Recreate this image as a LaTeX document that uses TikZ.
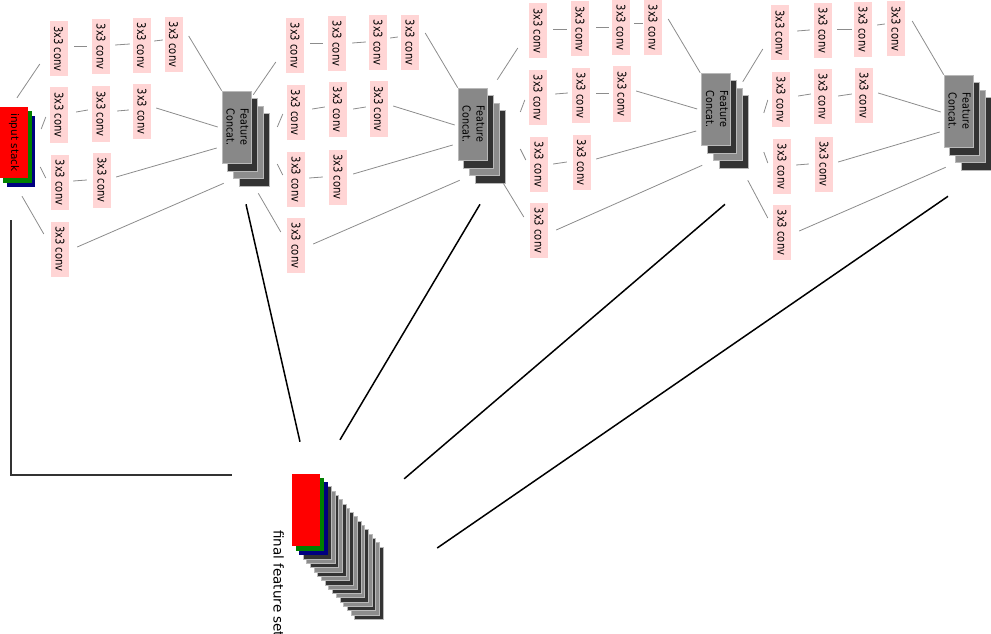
\documentclass[tikz,border=0pt]{standalone}
\usepackage{fontspec}
\setmainfont{DejaVu Sans}
\usepackage{graphicx}
\pgfdeclarelayer{bg}
\pgfsetlayers{bg,main}
\definecolor{convpink}{RGB}{255,213,213}
\definecolor{cgray}{RGB}{136,136,136}
\definecolor{cdark}{RGB}{51,51,51}
\definecolor{cmid}{RGB}{140,140,140}
\definecolor{clight}{RGB}{185,185,185}
\definecolor{lnk}{RGB}{140,140,140}
\definecolor{sgreen}{RGB}{0,128,0}
\definecolor{sblue}{RGB}{0,0,128}
\newcommand\cv{\rotatebox{-90}{\scalebox{0.83}[1]{3x3 conv}}}
\newcommand\fc{\rotatebox{-90}{\scalebox{0.87}[1]{\begin{tabular}{@{}c@{}}Feature\\Concat.\end{tabular}}}}
\newcommand\lk[4]{\draw[link] ([shift={#2}]#1) -- ([shift={#4}]#3);}
\tikzset{
  conv/.style={fill=convpink, minimum width=18pt, minimum height=55pt, inner sep=0pt, font=\fontsize{12}{14}\selectfont},
  concat/.style={fill=cgray, draw=clight, line width=0.6pt, minimum width=29pt, minimum height=72pt, inner sep=0pt, font=\fontsize{11}{14}\selectfont},
  redstack/.style={fill=red, minimum width=28pt, minimum height=72pt, inner sep=0pt},
  link/.style={draw=lnk, line width=0.8pt},
  bigline/.style={draw=black, line width=1.5pt},
  axisline/.style={draw=cdark, line width=1.4pt},
  layer/.style={draw=clight, line width=0.8pt}
}
\begin{document}
\begin{tikzpicture}[x=1pt,y=-1pt]
\useasboundingbox (0,0) rectangle (991,634);
% input stack
\node[redstack, minimum height=71pt] (inp) at (14,142.5) {\rotatebox{-90}{\fontsize{10.5}{12}\selectfont input stack}};
% module 1
\node[conv] (m1r1c1) at (58.5,49) {\cv};
\node[conv] (m1r1c2) at (101,46.5) {\cv};
\node[conv] (m1r1c3) at (141.5,45.5) {\cv};
\node[conv] (m1r1c4) at (173.5,44.5) {\cv};
\node[conv] (m1r2c1) at (59,115) {\cv};
\node[conv] (m1r2c2) at (101,114) {\cv};
\node[conv] (m1r2c3) at (142,111.5) {\cv};
\node[conv] (m1r3c1) at (60,182.5) {\cv};
\node[conv] (m1r3c2) at (102,180) {\cv};
\node[conv] (m1r4c1) at (60,249) {\cv};
\node[concat] (cc1) at (236.5,127) {\fc};
% module 2
\node[conv] (m2r1c1) at (295,45.5) {\cv};
\node[conv] (m2r1c2) at (337,43.5) {\cv};
\node[conv] (m2r1c3) at (378,42.5) {\cv};
\node[conv] (m2r1c4) at (410,42.5) {\cv};
\node[conv] (m2r2c1) at (295.5,112.5) {\cv};
\node[conv] (m2r2c2) at (337.5,109.5) {\cv};
\node[conv] (m2r2c3) at (378.5,109) {\cv};
\node[conv] (m2r3c1) at (296,179.5) {\cv};
\node[conv] (m2r3c2) at (338,177) {\cv};
\node[conv] (m2r4c1) at (296,245.5) {\cv};
\node[concat] (cc2) at (472.5,124) {\fc};
% module 3
\node[conv] (m3r1c1) at (538,31) {\cv};
\node[conv] (m3r1c2) at (580,29) {\cv};
\node[conv] (m3r1c3) at (621,27.5) {\cv};
\node[conv] (m3r1c4) at (653,27.5) {\cv};
\node[conv] (m3r2c1) at (538,97.5) {\cv};
\node[conv] (m3r2c2) at (581,95.5) {\cv};
\node[conv] (m3r2c3) at (622,94) {\cv};
\node[conv] (m3r3c1) at (539,164.5) {\cv};
\node[conv] (m3r3c2) at (581.5,162.5) {\cv};
\node[conv] (m3r4c1) at (539,230.5) {\cv};
\node[concat] (cc3) at (716,109) {\fc};
% module 4
\node[conv] (m4r1c1) at (780,33) {\cv};
\node[conv] (m4r1c2) at (823,30.5) {\cv};
\node[conv] (m4r1c3) at (863,29.5) {\cv};
\node[conv] (m4r1c4) at (896,29) {\cv};
\node[conv] (m4r2c1) at (781,99.5) {\cv};
\node[conv] (m4r2c2) at (823,96.5) {\cv};
\node[conv] (m4r2c3) at (864,95.5) {\cv};
\node[conv] (m4r3c1) at (782,166.5) {\cv};
\node[conv] (m4r3c2) at (824,164) {\cv};
\node[conv] (m4r4c1) at (782,232.5) {\cv};
\node[concat] (cc4) at (958.5,111) {\fc};
% final feature set
\node[redstack] (fin) at (306,510) {};
\node[rotate=-90, anchor=base west, inner sep=0pt, font=\fontsize{13.5}{16}\selectfont] (finlabel) at (273.5,530) {final feature set};

\begin{pgfonlayer}{bg}
  \foreach \n in {cc1,cc2,cc3,cc4}{
    \foreach \k/\c in {3/cdark,2/cmid,1/cdark}{
      \filldraw[layer, fill=\c] ([shift={(\k*6,\k*7.7)}]\n.south west) rectangle ([shift={(\k*6,\k*7.7)}]\n.north east);
    }
  }
  \foreach \k/\c in {2/sblue,1/sgreen}{
    \fill[\c] ([shift={(\k*3.5,\k*4.5)}]inp.south west) rectangle ([shift={(\k*3.5,\k*4.5)}]inp.north east);
  }
  \foreach \k/\c in {17/cdark,16/cmid,15/cdark,14/cmid,13/cdark,12/cmid,11/cdark,10/cmid,9/cdark,8/cmid,7/cdark,6/cmid,5/cdark,4/cmid,3/cdark}{
    \filldraw[layer, fill=\c] ([shift={(\k*3.7,\k*4.3)}]fin.south west) rectangle ([shift={(\k*3.7,\k*4.3)}]fin.north east);
  }
  \foreach \k/\c in {2/sblue,1/sgreen}{
    \fill[\c] ([shift={(\k*3.7,\k*4.3)}]fin.south west) rectangle ([shift={(\k*3.7,\k*4.3)}]fin.north east);
  }
\end{pgfonlayer}

% module 1 links
\lk{inp.north}{(3,-9)}{m1r1c1.west}{(-9.5,15)}
\lk{inp.east}{(13,-13.5)}{m1r2c1.west}{(-4,2)}
\lk{inp.east}{(12,24.5)}{m1r3c1.west}{(-5,-4.5)}
\lk{inp.south}{(8,18)}{m1r4c1.west}{(-7,-15)}
\lk{m1r1c1.east}{(6.5,-3)}{m1r1c2.west}{(-5,-0.5)}
\lk{m1r1c2.east}{(5,-1.5)}{m1r1c3.west}{(-2.5,-1.5)}
\lk{m1r1c3.east}{(3.5,-4.5)}{m1r1c4.west}{(-1.5,-4.5)}
\lk{m1r2c1.east}{(8,-3)}{m1r2c2.west}{(-4,-4)}
\lk{m1r2c2.east}{(7,-3)}{m1r2c3.west}{(-4,-1.5)}
\lk{m1r3c1.east}{(4,-1.5)}{m1r3c2.west}{(-6,0)}
\lk{m1r1c4.east}{(6,-8.5)}{cc1.north west}{(0,0)}
\lk{m1r2c3.east}{(5,-3.5)}{cc1.west}{(-4,0)}
\lk{m1r3c2.east}{(5,-3)}{cc1.west}{(-5,21)}
\lk{m1r4c1.east}{(8,-2)}{cc1.south west}{(2,20)}
% module 2 links
\lk{cc1.north east}{(2,4)}{m2r1c1.west}{(-10,16.5)}
\lk{cc1.east}{(26,0)}{m2r2c1.west}{(-3.5,1.5)}
\lk{cc1.east}{(26,37)}{m2r3c1.west}{(-4,-4.5)}
\lk{cc1.south east}{(7,30)}{m2r4c1.west}{(-6,-13.5)}
\lk{m2r1c1.east}{(6,-2.5)}{m2r1c2.west}{(-5,-0.5)}
\lk{m2r1c2.east}{(6,-0.5)}{m2r1c3.west}{(-3,-0.5)}
\lk{m2r1c3.east}{(3,-4.5)}{m2r1c4.west}{(-3,-5.5)}
\lk{m2r2c1.east}{(7.5,-3.5)}{m2r2c2.west}{(-3.5,-2.5)}
\lk{m2r2c2.east}{(6.5,-0.5)}{m2r2c3.west}{(-3.5,-2)}
\lk{m2r3c1.east}{(4,-1.5)}{m2r3c2.west}{(-6,0)}
\lk{m2r1c4.east}{(6,-9.5)}{cc2.north west}{(0,0)}
\lk{m2r2c3.east}{(5.5,-3)}{cc2.west}{(-3,1)}
\lk{m2r3c2.east}{(6,-3)}{cc2.west}{(-5,21)}
\lk{m2r4c1.east}{(8,-1.5)}{cc2.south west}{(2,20)}
% module 3 links
\lk{cc2.north east}{(10,-8)}{m3r1c1.west}{(-11,17)}
\lk{cc2.east}{(33,-12)}{m3r2c1.west}{(-4,2.5)}
\lk{cc2.east}{(33,25)}{m3r3c1.west}{(-4,-4.5)}
\lk{cc2.south east}{(16,23)}{m3r4c1.west}{(-6,-13.5)}
\lk{m3r1c1.east}{(6,-2)}{m3r1c2.west}{(-4,0)}
\lk{m3r1c2.east}{(7,-2)}{m3r1c3.west}{(-3,-0.5)}
\lk{m3r1c3.east}{(4,-4.5)}{m3r1c4.west}{(-1,-4.5)}
\lk{m3r2c1.east}{(8,-3.5)}{m3r2c2.west}{(-4,-2.5)}
\lk{m3r2c2.east}{(6,-2.5)}{m3r2c3.west}{(-4,-1)}
\lk{m3r3c1.east}{(5,-0.5)}{m3r3c2.west}{(-5.5,-0.5)}
\lk{m3r1c4.east}{(6,-8.5)}{cc3.north west}{(-1,0)}
\lk{m3r2c3.east}{(5,-3)}{cc3.west}{(-4,0)}
\lk{m3r3c2.east}{(5.5,-3.5)}{cc3.west}{(-5,22)}
\lk{m3r4c1.east}{(8,-0.5)}{cc3.south west}{(1,20)}
% module 4 links
\lk{cc3.north east}{(12,9)}{m4r1c1.west}{(-8,16)}
\lk{cc3.east}{(33,4)}{m4r2c1.west}{(-4,0.5)}
\lk{cc3.east}{(33,43)}{m4r3c1.west}{(-5,-3.5)}
\lk{cc3.south east}{(17,35)}{m4r4c1.west}{(-5,-14.5)}
\lk{m4r1c1.east}{(8,-2)}{m4r1c2.west}{(-4,-0.5)}
\lk{m4r1c2.east}{(5,-1.5)}{m4r1c3.west}{(-2,-0.5)}
\lk{m4r1c3.east}{(5,-4.5)}{m4r1c4.west}{(-2,-5)}
\lk{m4r2c1.east}{(8,-3.5)}{m4r2c2.west}{(-3,-2.5)}
\lk{m4r2c2.east}{(6,-0.5)}{m4r2c3.west}{(-3,-1.5)}
\lk{m4r3c1.east}{(5,-1.5)}{m4r3c2.west}{(-6,0)}
\lk{m4r1c4.east}{(7,-8)}{cc4.north west}{(0,0)}
\lk{m4r2c3.east}{(5,-2.5)}{cc4.west}{(-3,1)}
\lk{m4r3c2.east}{(5,-2)}{cc4.west}{(-4,21)}
\lk{m4r4c1.east}{(8,-1.5)}{cc4.south west}{(2,20)}
% lines to the final feature set
\draw[axisline] ([shift={(-3,42)}]inp.south) |- ([shift={(-60,1)}]fin.north west);
\draw[bigline] ([shift={(9.5,41)}]cc1.south) -- ([shift={(-6,-32)}]fin.north);
\draw[bigline] ([shift={(7.5,44)}]cc2.south) -- ([shift={(34,-34)}]fin.north);
\draw[bigline] ([shift={(9,59)}]cc3.south) -- ([shift={(84,5)}]fin.north east);
\draw[bigline] ([shift={(-10.5,49)}]cc4.south) -- ([shift={(117,38)}]fin.east);
\end{tikzpicture}
\end{document}
